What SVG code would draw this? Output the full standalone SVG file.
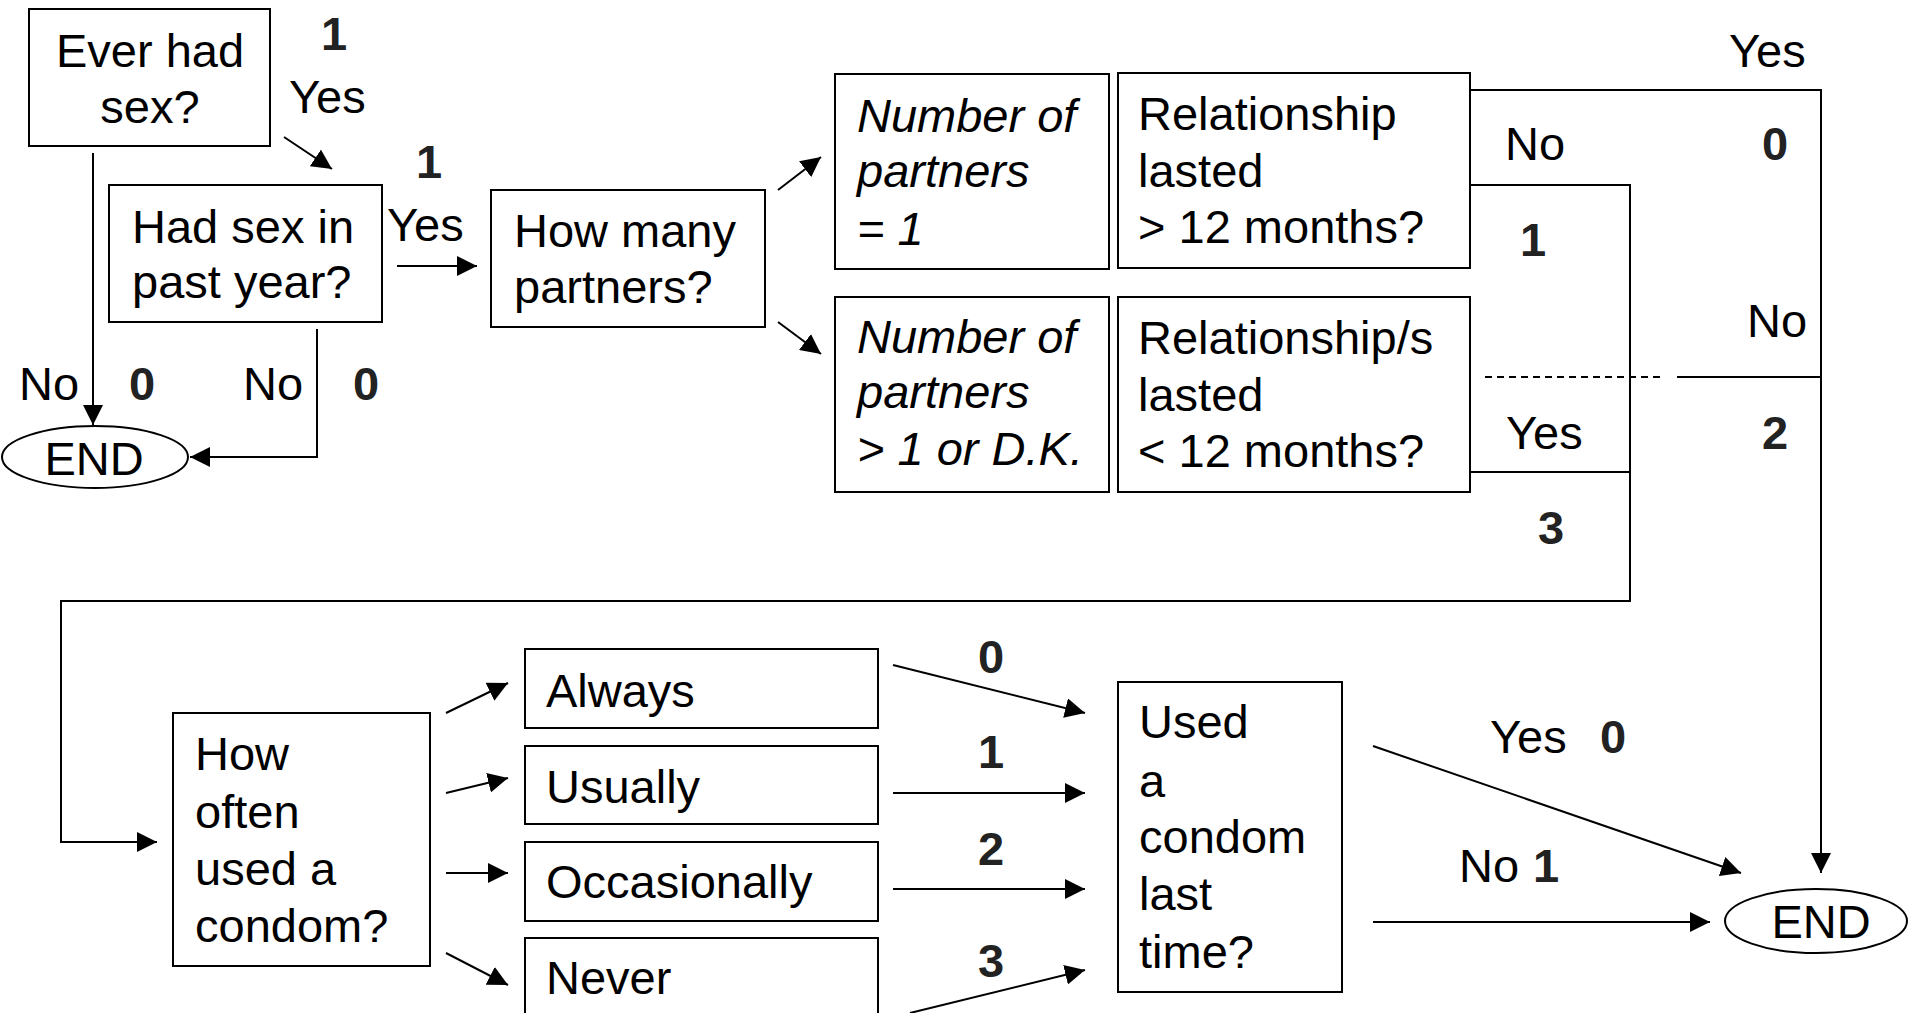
<svg xmlns="http://www.w3.org/2000/svg" width="1909" height="1013" viewBox="0 0 1909 1013">
<defs>
<style>
text{font-family:"Liberation Sans",Arial,sans-serif;font-size:47px;fill:#000}
.b{font-weight:bold;fill:#222}
.i{font-style:italic}
.m{text-anchor:middle}
.box{fill:#fff;stroke:#000;stroke-width:2}
.ln{fill:none;stroke:#000;stroke-width:2}
.ar{fill:none;stroke:#000;stroke-width:2;marker-end:url(#ah)}
.dash{fill:none;stroke:#000;stroke-width:2;stroke-dasharray:7 5}
</style>
<marker id="ah" markerUnits="userSpaceOnUse" markerWidth="20" markerHeight="20" refX="20" refY="10" orient="auto"><path d="M0,0 L20,10 L0,20 z" fill="#000"/></marker>
</defs>
<rect width="1909" height="1013" fill="#fff"/>
<g id="connectors">
<line class="ar" x1="284" y1="137" x2="332" y2="169"/>
<line class="ar" x1="397" y1="266" x2="477" y2="266"/>
<line class="ar" x1="93" y1="153" x2="93" y2="425"/>
<polyline class="ar" points="317,329 317,457 190,457"/>
<line class="ar" x1="778" y1="190" x2="821" y2="157"/>
<line class="ar" x1="778" y1="322" x2="821" y2="354"/>
<polyline class="ar" points="1470,90 1821,90 1821,873"/>
<polyline class="ar" points="1470,185 1630,185 1630,601 61,601 61,842 157,842"/>
<line class="ln" x1="1470" y1="472" x2="1630" y2="472"/>
<line class="dash" x1="1485" y1="377" x2="1663" y2="377"/>
<line class="ln" x1="1677" y1="377" x2="1821" y2="377"/>
<line class="ar" x1="446" y1="713" x2="508" y2="683"/>
<line class="ar" x1="446" y1="793" x2="508" y2="778"/>
<line class="ar" x1="446" y1="873" x2="508" y2="873"/>
<line class="ar" x1="446" y1="953" x2="508" y2="985"/>
<line class="ar" x1="893" y1="665" x2="1085" y2="713"/>
<line class="ar" x1="893" y1="793" x2="1085" y2="793"/>
<line class="ar" x1="893" y1="889" x2="1085" y2="889"/>
<line class="ar" x1="910" y1="1013" x2="1085" y2="970"/>
<line class="ar" x1="1373" y1="746" x2="1741" y2="873"/>
<line class="ar" x1="1373" y1="922" x2="1710" y2="922"/>
</g>
<g id="labels">
<text class="b m" x="334" y="50">1</text>
<text x="289" y="113">Yes</text>
<text class="b m" x="429" y="178">1</text>
<text x="387" y="241">Yes</text>
<text x="19" y="400">No</text>
<text class="b m" x="142" y="400">0</text>
<text x="243" y="400">No</text>
<text class="b m" x="366" y="400">0</text>
<text x="1729" y="67">Yes</text>
<text x="1505" y="160">No</text>
<text class="b m" x="1775" y="160">0</text>
<text class="b m" x="1533" y="256">1</text>
<text x="1747" y="337">No</text>
<text x="1506" y="449">Yes</text>
<text class="b m" x="1775" y="449">2</text>
<text class="b m" x="1551" y="544">3</text>
<text class="b m" x="991" y="673">0</text>
<text class="b m" x="991" y="768">1</text>
<text class="b m" x="991" y="865">2</text>
<text class="b m" x="991" y="977">3</text>
<text x="1490" y="753">Yes</text>
<text class="b" x="1600" y="753">0</text>
<text x="1459" y="882">No</text>
<text class="b" x="1533" y="882">1</text>
</g>
<g id="ever-had-sex">
<rect class="box" x="29" y="9" width="241" height="137"/>
<text class="m" x="150" y="67">Ever had</text>
<text class="m" x="150" y="123">sex?</text>
</g>
<g id="past-year">
<rect class="box" x="109" y="185" width="273" height="137"/>
<text x="132" y="243">Had sex in</text>
<text x="132" y="298">past year?</text>
</g>
<g id="end-left">
<ellipse class="box" cx="95" cy="457" rx="93" ry="31"/>
<text class="m" x="94" y="475">END</text>
</g>
<g id="how-many">
<rect class="box" x="491" y="190" width="274" height="137"/>
<text x="514" y="247">How many</text>
<text x="514" y="303">partners?</text>
</g>
<g id="partners-one">
<rect class="box" x="835" y="74" width="274" height="195"/>
<text class="i" x="857" y="132">Number of</text>
<text class="i" x="857" y="187">partners</text>
<text class="i" x="857" y="245">= 1</text>
</g>
<g id="partners-more">
<rect class="box" x="835" y="297" width="274" height="195"/>
<text class="i" x="857" y="353">Number of</text>
<text class="i" x="857" y="408">partners</text>
<text class="i" x="857" y="465">&gt; 1 or D.K.</text>
</g>
<g id="rel-long">
<rect class="box" x="1118" y="73" width="352" height="195"/>
<text x="1138" y="130">Relationship</text>
<text x="1138" y="187">lasted</text>
<text x="1138" y="243">&gt; 12 months?</text>
</g>
<g id="rel-short">
<rect class="box" x="1118" y="297" width="352" height="195"/>
<text x="1138" y="354">Relationship/s</text>
<text x="1138" y="411">lasted</text>
<text x="1138" y="467">&lt; 12 months?</text>
</g>
<g id="how-often">
<rect class="box" x="173" y="713" width="257" height="253"/>
<text x="195" y="770">How</text>
<text x="195" y="828">often</text>
<text x="195" y="885">used a</text>
<text x="195" y="942">condom?</text>
</g>
<g id="always">
<rect class="box" x="525" y="649" width="353" height="79"/>
<text x="546" y="707">Always</text>
</g>
<g id="usually">
<rect class="box" x="525" y="746" width="353" height="78"/>
<text x="546" y="803">Usually</text>
</g>
<g id="occasionally">
<rect class="box" x="525" y="842" width="353" height="79"/>
<text x="546" y="898">Occasionally</text>
</g>
<g id="never">
<rect class="box" x="525" y="938" width="353" height="100"/>
<text x="546" y="994">Never</text>
</g>
<g id="used-last-time">
<rect class="box" x="1118" y="682" width="224" height="310"/>
<text x="1139" y="738">Used</text>
<text x="1139" y="797">a</text>
<text x="1139" y="853">condom</text>
<text x="1139" y="910">last</text>
<text x="1139" y="968">time?</text>
</g>
<g id="end-right">
<ellipse class="box" cx="1816" cy="921" rx="91" ry="32"/>
<text class="m" x="1821" y="938">END</text>
</g>
</svg>
